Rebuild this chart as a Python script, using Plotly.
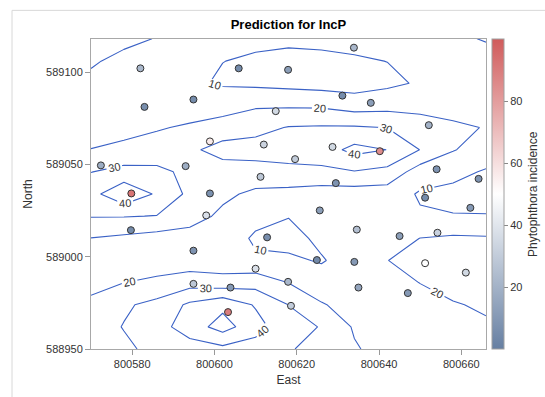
import plotly.graph_objects as go

# Prediction grid (kriging output) for IncP; the last row lies just north of the
# displayed range so lines reaching the top frame are clipped there.
east_grid = [800570 + 8 * i for i in range(13)]
north_grid = [588950 + 12 * j for j in range(16)]

# predicted incidence, rows from south (588950) to north (589130)
z_pred = [
    [26, 28, 33, 35.5, 37.5, 35.5, 31, 26, 21, 16, 14, 14, 15],
    [25, 30.46, 36, 45, 54, 44, 33, 29.6, 18.9, 15, 15, 16, 18.5],
    [21.5, 28.5, 33, 41.8, 47.5, 39, 29.9, 20.8, 16, 15, 16, 19.2, 21.5],
    [18, 19.9, 22, 26, 24, 26, 19.8, 14, 13, 16, 20.2, 24, 23],
    [17, 16, 15, 14, 14, 12, 11.5, 9.3, 14, 19.8, 25, 25, 23],
    [19.8, 18, 16, 16, 17.5, 8, 7, 11.9, 15, 16, 20.1, 21.5, 21],
    [30.5, 30.5, 29.7, 24, 18, 14, 10.3, 13, 15, 14, 11, 10.5, 10.5],
    [36.7, 48, 38.7, 27.6, 22, 18, 17, 15, 15, 15, 9, 7, 6],
    [29.8, 33, 32, 28, 25, 26, 27, 28, 29.5, 27, 15, 13, 9],
    [20.3, 23, 25, 28, 34, 34, 35, 35, 43, 39.9, 29.8, 20.5, 16],
    [14, 16, 19, 21.5, 24, 27, 30.5, 31, 31, 29.8, 26, 22, 19.5],
    [16, 14.5, 13.5, 14, 16, 18.8, 18.8, 18.5, 15.5, 16.5, 16, 15.5, 15],
    [17, 15.5, 13.5, 11.5, 9, 8, 7, 6, 5.5, 8, 11, 14, 16],
    [21.5, 16.6, 14, 11.5, 10.1, 9, 8.5, 8.5, 9, 10.1, 12, 14.5, 17],
    [25, 23, 19.4, 16, 13, 11.5, 11, 11.5, 12.5, 14, 16, 18.5, 20.5],
    [29, 27, 23, 19, 15, 13, 12.5, 13, 14, 16, 18, 21, 24],
]

# Observed sampling sites
east_obs = [800582.0, 800605.9, 800594.9, 800583.0, 800614.9, 800598.9, 800612.0,
            800572.4, 800593.0, 800611.2, 800579.8, 800598.9, 800633.9, 800617.9,
            800631.1, 800638.0, 800652.1, 800628.7, 800640.2, 800619.6, 800654.0,
            800664.2, 800629.5, 800598.0, 800579.7, 800612.8, 800594.9, 800610.0,
            800594.9, 800603.9, 800603.3, 800617.9, 800651.2, 800662.2, 800625.6,
            800634.6, 800645.0, 800654.2, 800624.9, 800634.0, 800651.2, 800661.1,
            800635.0, 800647.0, 800618.6]
north_obs = [589102.1, 589102.1, 589085.2, 589081.2, 589078.9, 589062.5, 589060.8,
             589049.5, 589049.1, 589043.3, 589034.3, 589034.3, 589113.3, 589101.3,
             589087.3, 589083.4, 589071.3, 589059.5, 589057.2, 589052.9, 589047.4,
             589042.2, 589039.9, 589022.4, 589014.4, 589010.5, 589003.3, 588993.5,
             588985.3, 588983.3, 588970.0, 588986.4, 589032.0, 589026.5, 589025.1,
             589014.7, 589011.2, 589013.0, 588998.2, 588997.2, 588996.5, 588991.4,
             588983.3, 588980.3, 588973.4]
incidence_obs = [22, 5, 5, 6, 35, 56, 33,
                 18, 18, 28, 92, 7, 22, 12,
                 5, 12, 20, 35, 85, 30, 8,
                 8, 8, 38, 5, 6, 8, 38,
                 28, 10, 90, 22, 5, 10, 12,
                 25, 12, 32, 4, 10, 50, 35,
                 15, 10, 30]

east_ticks = [800580, 800600, 800620, 800640, 800660]
north_ticks = [588950, 589000, 589050, 589100]
bar_ticks = [20, 40, 60, 80]

FONT = "Liberation Sans, Arial, sans-serif"
ramp = [[0.0, "#667FA2"], [0.5, "#FFFFFF"], [1.0, "#D05B5B"]]

fig = go.Figure()

fig.add_trace(go.Contour(
    x=east_grid, y=north_grid, z=z_pred,
    contours=dict(start=10, end=50, size=10, coloring="none", showlabels=True,
                  labelfont=dict(family=FONT, size=11, color="#333333")),
    line=dict(color="#3b62c6", width=1.1, smoothing=0),
    showscale=False, showlegend=False, hoverinfo="skip",
))

fig.add_trace(go.Scatter(
    x=east_obs, y=north_obs, mode="markers",
    marker=dict(
        size=7, color=incidence_obs, colorscale=ramp, cmin=0, cmax=100,
        line=dict(color="#333333", width=1),
        colorbar=dict(
            x=1.0144, xanchor="left", xpad=0, y=0.5, yanchor="middle",
            len=1, lenmode="fraction", ypad=0, thickness=12,
            outlinewidth=1, outlinecolor="#a0a0a0",
            ticks="outside", ticklen=4, tickcolor="#888888",
            tickvals=bar_ticks, tickfont=dict(family=FONT, size=11, color="#333333"),
        ),
    ),
    showlegend=False,
))

axis_common = dict(
    showgrid=False, zeroline=False, showline=True, mirror=True,
    linecolor="#a8a8a8", linewidth=1, ticks="outside", ticklen=5,
    tickcolor="#999999", tickfont=dict(family=FONT, size=11, color="#333333"),
    tickformat="d",
)

fig.update_layout(
    width=545, height=397,
    showlegend=False,
    margin=dict(l=91, r=59, t=39, b=44),
    paper_bgcolor="white", plot_bgcolor="white",
    font=dict(family=FONT, color="#333333"),
    title=dict(text="<b>Prediction for IncP</b>", x=0.5, xref="paper", xanchor="center",
               y=1 - 24 / 397, yref="container", yanchor="middle",
               font=dict(family=FONT, size=13, color="#000000")),
    xaxis=dict(range=[800570, 800666], tickvals=east_ticks,
               title=dict(text="East", font=dict(family=FONT, size=12, color="#333333"),
                          standoff=6),
               **axis_common),
    yaxis=dict(range=[588950, 589118], tickvals=north_ticks,
               title=dict(text="North", font=dict(family=FONT, size=12, color="#333333"),
                          standoff=10),
               **axis_common),
    annotations=[dict(text="Phytophthora incidence", textangle=-90,
                      xref="paper", yref="paper", x=(533 - 91) / 395, y=0.5,
                      xanchor="center", yanchor="middle", showarrow=False,
                      font=dict(family=FONT, size=12, color="#333333"))],
    shapes=[dict(type="rect", xref="paper", yref="paper",
                 x0=-0.2, x1=1.3, y0=-0.3, y1=(353 - 10) / 314,
                 line=dict(color="#d8d8d8", width=1), fillcolor="rgba(0,0,0,0)",
                 layer="below")],
)

fig.write_html("out.html")
